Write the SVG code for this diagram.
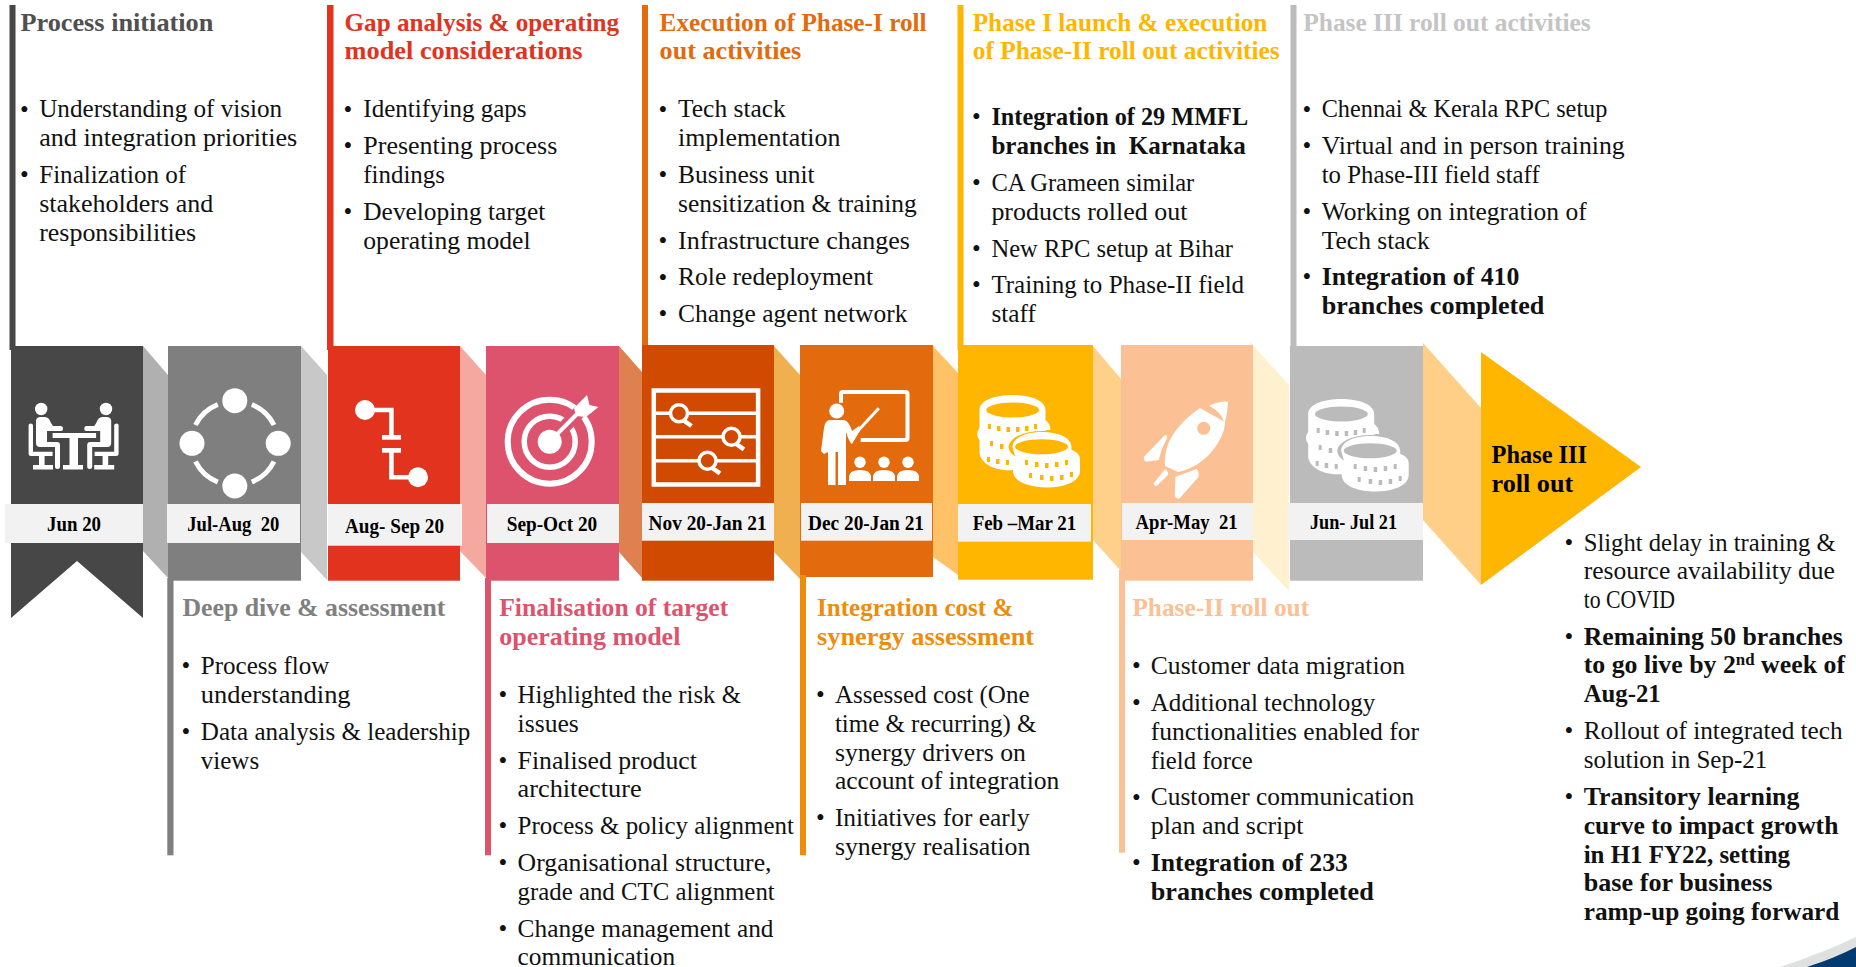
<svg xmlns="http://www.w3.org/2000/svg" width="1856" height="967" viewBox="0 0 1856 967">
<style>
text{font-family:"Liberation Serif","Times New Roman",serif;font-size:24.5px;fill:#111}
.b{font-weight:700}
.d{font-size:20px;font-weight:700;fill:#000}
.u{font-size:25px;transform:translate(0.6px,1.5px)}
.w{fill:#fff}
.band{fill:#f2f2f2}
.ln{fill:none;stroke:#fff}
</style>
<defs>
<g id="sitter">
<circle cx="41.2" cy="409" r="6.2"/>
<path d="M36 421q0-4 5-4h4q4 0 6 6l2 3h8q2 0 2 2.500t-2 2.500h-12l-2 0v11h10q3 0 3 3v22q0 2-2.500 2t-2.500-2v-20h-15q-4 0-4-4z"/>
<path d="M28.600 425q0-1.500 2-1.500t2.400 1.500v26.700h19.600v4.300h-8v9h8.400v4.500h-20v-4.500h6v-9h-8q-2.400 0-2.400-2z"/>
</g>
<g id="coins">
<path class="w" d="M979.500 410c0-20 66-20 66 0v10c4 3 5 7 5 10h-3c-14 4-25 14-34 40c-20 2-34-8-34-18v-12c-3-4-3-8 0-12z"/>
<ellipse cx="1041.500" cy="447" rx="33" ry="16" style="fill:currentColor"/>
<path class="w" d="M1012.500 447c0-20 59-20 59 0v3c6 2 8.500 5 8.500 10v11c0 22-67 22-67 0v-10q0-3 2-5z"/>
<ellipse cx="1012.700" cy="410" rx="26.500" ry="7.500" style="fill:currentColor"/>
<ellipse cx="1041.500" cy="446.700" rx="26.500" ry="7.500" style="fill:currentColor"/>
<g style="fill:currentColor">
<rect x="988" y="424" width="3" height="5"/><rect x="997" y="426" width="3.500" height="5"/><rect x="1006.500" y="427" width="3.500" height="5"/><rect x="1016" y="427" width="3.500" height="5"/><rect x="1025" y="426" width="3.500" height="5"/><rect x="1034" y="424" width="3" height="5"/>
<rect x="990" y="441" width="3" height="5"/><rect x="1000" y="444" width="3.500" height="5"/><rect x="987" y="457" width="3" height="5"/><rect x="996" y="459" width="3.500" height="5"/><rect x="1006" y="460" width="3" height="5"/>
<rect x="1025" y="460" width="3" height="5"/><rect x="1035" y="462" width="3.500" height="5"/><rect x="1045" y="463" width="3.500" height="5"/><rect x="1055" y="462" width="3.500" height="5"/><rect x="1065" y="460" width="3" height="5"/>
<rect x="1029" y="473" width="3" height="5"/><rect x="1040" y="475" width="3.500" height="5"/><rect x="1050" y="476" width="3.500" height="5"/><rect x="1060" y="475" width="3.500" height="5"/><rect x="1070" y="472" width="3" height="5"/>
</g>
</g>
</defs>

<path id="corner-swoosh-grey" d="M1780 967Q1825 952 1856 937V967z" fill="#dfe1e1"/>
<path id="corner-swoosh-navy" d="M1807 967Q1835 958 1856 947V967z" fill="#003a70"/>

<g id="connectors">
<polygon points="143,346 168,375 168,578 143,551" fill="#b0b0b0"/>
<polygon points="301,346 327,375 327,580 301,552" fill="#c8c8c8"/>
<polygon points="460,346 486,375 486,578 460,551" fill="#f4a8a0"/>
<polygon points="619,346 642,372 642,578 619,552" fill="#de8050"/>
<polygon points="774,346 800,375 800,579 774,552" fill="#f0b050"/>
<polygon points="933,346 958,373 958,575 933,557" fill="#ffc266"/>
<polygon points="1093,346 1121,379 1121,571 1093,540" fill="#ffd08a"/>
<polygon points="1250,342 1289,385 1289,591 1253,552" fill="#fff0cf"/>
<polygon points="1423,343 1481,408 1481,585 1423,520" fill="#ffcf87"/>
</g>

<g id="step-1">
<rect x="9.500" y="5" width="6" height="345" fill="#474747"/>
<polygon points="11,346 143,346 143,618 77,561 11,618" fill="#474747"/>
<rect class="band" x="5" y="504" width="138" height="39"/>
<text class="d" x="47" y="531" textLength="54" lengthAdjust="spacingAndGlyphs">Jun 20</text>
<g class="w"><use href="#sitter"/><use href="#sitter" transform="translate(147.200 0) scale(-1 1)"/>
<rect x="52.600" y="433" width="43.500" height="5"/><rect x="69.500" y="438" width="8.500" height="27"/><rect x="63" y="465" width="20" height="4.500"/></g>
<text style="fill:#505050" class="b" x="20.400" y="30.700" textLength="193" lengthAdjust="spacingAndGlyphs">Process initiation</text>
<text class="u" x="19.500" y="116">•</text>
<text x="39.200" y="117.300" textLength="243" lengthAdjust="spacingAndGlyphs">Understanding of vision</text>
<text x="39.200" y="146" textLength="258" lengthAdjust="spacingAndGlyphs">and integration priorities</text>
<text class="u" x="19.500" y="181.200">•</text>
<text x="39.200" y="182.700" textLength="147" lengthAdjust="spacingAndGlyphs">Finalization of</text>
<text x="39.200" y="212" textLength="174" lengthAdjust="spacingAndGlyphs">stakeholders and</text>
<text x="39.200" y="240.700" textLength="157" lengthAdjust="spacingAndGlyphs">responsibilities</text>
</g>

<g id="step-2">
<rect x="168" y="346" width="133" height="234.700" fill="#7f7f7f"/>
<rect x="167.300" y="578" width="6.200" height="277.300" fill="#7f7f7f"/>
<rect class="band" x="167" y="504" width="133" height="39"/>
<text class="d" x="187.300" y="531" textLength="92" lengthAdjust="spacingAndGlyphs" xml:space="preserve">Jul-Aug  20</text>
<g class="w"><circle cx="234.800" cy="400.700" r="12.500"/><circle cx="192" cy="443.300" r="12.500"/><circle cx="278.200" cy="443.300" r="12.500"/><circle cx="234.800" cy="486" r="12.500"/></g>
<path class="ln" stroke-width="5" d="M217.800 404.500A42 42 0 0 0 195.500 425M251.800 404.500A42 42 0 0 1 274 425M217.800 482A42 42 0 0 1 195.500 461.500M251.800 482A42 42 0 0 0 274 461.500"/>
<text style="fill:#808080" class="b" x="182.400" y="616" textLength="263" lengthAdjust="spacingAndGlyphs">Deep dive &amp; assessment</text>
<text class="u" x="181" y="672.500">•</text>
<text x="200.800" y="674" textLength="128.600" lengthAdjust="spacingAndGlyphs">Process flow</text>
<text x="200.800" y="703.300" textLength="149.800" lengthAdjust="spacingAndGlyphs">understanding</text>
<text class="u" x="181" y="738.500">•</text>
<text x="200.800" y="740" textLength="269.400" lengthAdjust="spacingAndGlyphs">Data analysis &amp; leadership</text>
<text x="200.800" y="768.700" textLength="58.400" lengthAdjust="spacingAndGlyphs">views</text>
</g>

<g id="step-3">
<rect x="327" y="5" width="6.500" height="345" fill="#e1331e"/>
<rect x="328" y="346" width="132" height="234.700" fill="#e1331e"/>
<rect class="band" x="328" y="504" width="134" height="41.700"/>
<text class="d" x="345" y="532.700" textLength="99" lengthAdjust="spacingAndGlyphs">Aug- Sep 20</text>
<g class="w"><circle cx="365" cy="410" r="10"/><circle cx="418" cy="477.300" r="10"/><rect x="382" y="435" width="19" height="4.700"/><rect x="382" y="448" width="19" height="4.700"/></g>
<path class="ln" stroke-width="4.500" d="M365 410H391.400V436M391.400 450V477.300H418"/>
<text style="fill:#e1331e" class="b" x="344.500" y="30.700" textLength="274.700" lengthAdjust="spacingAndGlyphs">Gap analysis &amp; operating</text>
<text style="fill:#e1331e" class="b" x="344.500" y="59.300" textLength="238" lengthAdjust="spacingAndGlyphs">model considerations</text>
<text class="u" x="343" y="116">•</text>
<text x="363.300" y="117.300" textLength="163.300" lengthAdjust="spacingAndGlyphs">Identifying gaps</text>
<text class="u" x="343" y="152.500">•</text>
<text x="363.300" y="154" textLength="194" lengthAdjust="spacingAndGlyphs">Presenting process</text>
<text x="363.300" y="182.700" textLength="81.600" lengthAdjust="spacingAndGlyphs">findings</text>
<text class="u" x="343" y="218.500">•</text>
<text x="363.300" y="220" textLength="182" lengthAdjust="spacingAndGlyphs">Developing target</text>
<text x="363.300" y="248.700" textLength="167.300" lengthAdjust="spacingAndGlyphs">operating model</text>
</g>

<g id="step-4">
<rect x="486" y="346" width="133" height="234.700" fill="#dd536d"/>
<rect x="485" y="578" width="6" height="277.300" fill="#dd536d"/>
<rect class="band" x="487" y="504" width="132" height="39"/>
<text class="d" x="506.700" y="531" textLength="90.500" lengthAdjust="spacingAndGlyphs">Sep-Oct 20</text>
<g>
<circle cx="549.700" cy="441.700" r="42" fill="none" stroke="#fff" stroke-width="6"/>
<circle cx="549.700" cy="441.700" r="25.500" fill="none" stroke="#fff" stroke-width="5.500"/>
<path d="M549.700 441.700L592 399" stroke="#dd536d" stroke-width="13" fill="none"/>
<circle class="w" cx="549.700" cy="441.700" r="12"/>
<path d="M549.700 441.700L578 413" stroke="#fff" stroke-width="4" fill="none"/>
<polygon class="w" points="587,395 589.500,405 598.500,407 586,417 576,416 574,408"/>
</g>
<text style="fill:#dd536d" class="b" x="499.200" y="616" textLength="229" lengthAdjust="spacingAndGlyphs">Finalisation of target</text>
<text style="fill:#dd536d" class="b" x="499.200" y="645" textLength="181.200" lengthAdjust="spacingAndGlyphs">operating model</text>
<text class="u" x="498" y="701">•</text>
<text x="517.600" y="702.700" textLength="223.300" lengthAdjust="spacingAndGlyphs">Highlighted the risk &amp;</text>
<text x="517.600" y="732" textLength="61.200" lengthAdjust="spacingAndGlyphs">issues</text>
<text class="u" x="498" y="767">•</text>
<text x="517.600" y="768.700" textLength="179.200" lengthAdjust="spacingAndGlyphs">Finalised product</text>
<text x="517.600" y="797.300" textLength="124" lengthAdjust="spacingAndGlyphs">architecture</text>
<text class="u" x="498" y="832.500">•</text>
<text x="517.600" y="834" textLength="276.300" lengthAdjust="spacingAndGlyphs">Process &amp; policy alignment</text>
<text class="u" x="498" y="869.500">•</text>
<text x="517.600" y="871" textLength="253.900" lengthAdjust="spacingAndGlyphs">Organisational structure,</text>
<text x="517.600" y="900" textLength="257.100" lengthAdjust="spacingAndGlyphs">grade and CTC alignment</text>
<text class="u" x="498" y="935">•</text>
<text x="517.600" y="936.700" textLength="255.900" lengthAdjust="spacingAndGlyphs">Change management and</text>
<text x="517.600" y="965.300" textLength="157.600" lengthAdjust="spacingAndGlyphs">communication</text>
</g>

<g id="step-5">
<rect x="642" y="5" width="6" height="345" fill="#e36b0d"/>
<rect x="642" y="345" width="132" height="235.700" fill="#d04a02"/>
<rect class="band" x="642" y="503" width="132" height="37.700"/>
<text class="d" x="648.600" y="530" textLength="118" lengthAdjust="spacingAndGlyphs">Nov 20-Jan 21</text>
<rect x="653.800" y="390.500" width="104.300" height="94" fill="none" stroke="#fff" stroke-width="4.500"/>
<path class="ln" stroke-width="3.500" d="M653 413.300H758M653 436.700H758M653 460.700H758"/>
<g fill="#d04a02" stroke="#fff" stroke-width="3.500"><path d="M683 420L691.500 426M735.500 443.500L744 449.300M711.500 467.500L720 473.300" stroke-width="4.500"/><circle cx="679" cy="413.300" r="8.500"/><circle cx="731.500" cy="436.700" r="8.500"/><circle cx="707.500" cy="460.700" r="8.500"/></g>
<text style="fill:#e36b0d" class="b" x="659.600" y="30.700" textLength="267" lengthAdjust="spacingAndGlyphs">Execution of Phase-I roll</text>
<text style="fill:#e36b0d" class="b" x="659.600" y="59.300" textLength="141.600" lengthAdjust="spacingAndGlyphs">out activities</text>
<text class="u" x="658" y="116">•</text>
<text x="678" y="117.300" textLength="107.800" lengthAdjust="spacingAndGlyphs">Tech stack</text>
<text x="678" y="146" textLength="162.400" lengthAdjust="spacingAndGlyphs">implementation</text>
<text class="u" x="658" y="181">•</text>
<text x="678" y="182.700" textLength="136.700" lengthAdjust="spacingAndGlyphs">Business unit</text>
<text x="678" y="212" textLength="238.800" lengthAdjust="spacingAndGlyphs">sensitization &amp; training</text>
<text class="u" x="658" y="247.500">•</text>
<text x="678" y="249" textLength="232" lengthAdjust="spacingAndGlyphs">Infrastructure changes</text>
<text class="u" x="658" y="284">•</text>
<text x="678" y="285.300" textLength="195" lengthAdjust="spacingAndGlyphs">Role redeployment</text>
<text class="u" x="658" y="320.500">•</text>
<text x="678" y="322" textLength="229.400" lengthAdjust="spacingAndGlyphs">Change agent network</text>
</g>

<g id="step-6">
<rect x="800" y="345" width="133" height="232" fill="#e36b0d"/>
<rect x="800" y="575" width="6" height="280.300" fill="#ee8c0b"/>
<rect class="band" x="801" y="503" width="131" height="37.700"/>
<text class="d" x="808" y="530" textLength="116" lengthAdjust="spacingAndGlyphs">Dec 20-Jan 21</text>
<path class="ln" stroke-width="4" stroke-linejoin="round" d="M841 402.700V394Q841 392 843 392H905.500Q907.500 392 907.500 394V438Q907.500 440 905.500 440H860.700"/>
<path class="ln" stroke-width="3" d="M855.700 433.300L878.800 408.300"/>
<g class="w">
<circle cx="836.700" cy="411" r="7.500"/>
<path d="M829 420H844Q849 421 852 431L859 426L861 429L852 444Q849 442 846 432V485H838V452H835.500V485H828V452L824 454L821 451L824 428Q825 421 829 420z"/>
<circle cx="860" cy="462.300" r="5.700"/><circle cx="884" cy="462.300" r="5.700"/><circle cx="908" cy="462.300" r="5.700"/>
<path d="M849 481V476Q850 470 860 470Q870 470 871 476V481zM873 481V476Q874 470 884 470Q894 470 895 476V481zM897 481V476Q898 470 908 470Q918 470 919 476V481z"/>
</g>
<text style="fill:#ee8c0b" class="b" x="817" y="616" textLength="196.300" lengthAdjust="spacingAndGlyphs">Integration cost &amp;</text>
<text style="fill:#ee8c0b" class="b" x="817" y="645" textLength="217.100" lengthAdjust="spacingAndGlyphs">synergy assessment</text>
<text class="u" x="815.500" y="701">•</text>
<text x="834.900" y="702.700" textLength="194.700" lengthAdjust="spacingAndGlyphs">Assessed cost (One</text>
<text x="834.900" y="732" textLength="201.600" lengthAdjust="spacingAndGlyphs">time &amp; recurring) &amp;</text>
<text x="834.900" y="760.700" textLength="191" lengthAdjust="spacingAndGlyphs">synergy drivers on</text>
<text x="834.900" y="789.300" textLength="224.500" lengthAdjust="spacingAndGlyphs">account of integration</text>
<text class="u" x="815.500" y="824.500">•</text>
<text x="834.900" y="826" textLength="194.700" lengthAdjust="spacingAndGlyphs">Initiatives for early</text>
<text x="834.900" y="855.300" textLength="195.500" lengthAdjust="spacingAndGlyphs">synergy realisation</text>
</g>

<g id="step-7">
<rect x="957.500" y="5" width="6" height="345" fill="#ffb600"/>
<rect x="958" y="345" width="135" height="234.700" fill="#ffb600"/>
<rect class="band" x="958" y="504" width="133" height="37.700"/>
<text class="d" x="972.700" y="530" textLength="103.500" lengthAdjust="spacingAndGlyphs">Feb –Mar 21</text>
<use href="#coins" style="color:#ffb600"/>
<text style="fill:#ffb600" class="b" x="972.700" y="30.700" textLength="294.700" lengthAdjust="spacingAndGlyphs">Phase I launch &amp; execution</text>
<text style="fill:#ffb600" class="b" x="972.700" y="59.300" textLength="307" lengthAdjust="spacingAndGlyphs">of Phase-II roll out activities</text>
<text class="u" x="971.500" y="123.500">•</text>
<text class="b" x="991.400" y="125" textLength="256.700" lengthAdjust="spacingAndGlyphs">Integration of 29 MMFL</text>
<text class="b" x="991.400" y="154" textLength="254.300" lengthAdjust="spacingAndGlyphs" xml:space="preserve">branches in  Karnataka</text>
<text class="u" x="971.500" y="189.500">•</text>
<text x="991.400" y="191" textLength="202.900" lengthAdjust="spacingAndGlyphs">CA Grameen similar</text>
<text x="991.400" y="220" textLength="196" lengthAdjust="spacingAndGlyphs">products rolled out</text>
<text class="u" x="971.500" y="255.500">•</text>
<text x="991.400" y="257" textLength="241.600" lengthAdjust="spacingAndGlyphs">New RPC setup at Bihar</text>
<text class="u" x="971.500" y="291.500">•</text>
<text x="991.400" y="293" textLength="252.700" lengthAdjust="spacingAndGlyphs">Training to Phase-II field</text>
<text x="991.400" y="322" textLength="44.500" lengthAdjust="spacingAndGlyphs">staff</text>
</g>

<g id="step-8">
<rect x="1121" y="345" width="132" height="235.700" fill="#fbc093"/>
<rect x="1119" y="570" width="6" height="282.700" fill="#fbc093"/>
<rect class="band" x="1122" y="503" width="131" height="37"/>
<text class="d" x="1135.600" y="529" textLength="102" lengthAdjust="spacingAndGlyphs" xml:space="preserve">Apr-May  21</text>
<g class="w">
<path d="M1200 408C1185 418 1172 432 1167 447Q1164 458 1165 466L1178 472C1190 470 1205 461 1213 450C1221 440 1225 430 1225 422Z"/>
<path d="M1209 405.700Q1220 401 1228 401.700Q1228 412 1224.800 422.700Q1220 411 1209 405.700z"/>
<path d="M1165 435L1144 456.700Q1143 460 1146 461.700L1158.700 460Q1161 449 1167 438Q1168 435 1165 435z"/>
<path d="M1196.600 469L1175.500 476.700L1174.700 495Q1176 500 1180 498L1198.700 476.700Q1199 471 1196.600 469z"/>
<path d="M1165 469.300L1153.700 483.300Q1154 487 1156.700 486L1168 475Q1169 472 1165 469.300z"/>
</g>
<circle cx="1203.700" cy="428.300" r="6.500" fill="#fbc093"/>
<text style="fill:#fbc093" class="b" x="1132.400" y="616" textLength="176.700" lengthAdjust="spacingAndGlyphs">Phase-II roll out</text>
<text class="u" x="1131.500" y="672.500">•</text>
<text x="1150.800" y="674" textLength="254.300" lengthAdjust="spacingAndGlyphs">Customer data migration</text>
<text class="u" x="1131.500" y="709.500">•</text>
<text x="1150.800" y="711" textLength="224.500" lengthAdjust="spacingAndGlyphs">Additional technology</text>
<text x="1150.800" y="740" textLength="268.200" lengthAdjust="spacingAndGlyphs">functionalities enabled for</text>
<text x="1150.800" y="768.700" textLength="102" lengthAdjust="spacingAndGlyphs">field force</text>
<text class="u" x="1131.500" y="804">•</text>
<text x="1150.800" y="805.300" textLength="263.300" lengthAdjust="spacingAndGlyphs">Customer communication</text>
<text x="1150.800" y="834.300" textLength="152.700" lengthAdjust="spacingAndGlyphs">plan and script</text>
<text class="u" x="1131.500" y="869.500">•</text>
<text class="b" x="1150.800" y="871" textLength="197.100" lengthAdjust="spacingAndGlyphs">Integration of 233</text>
<text class="b" x="1150.800" y="900" textLength="222.900" lengthAdjust="spacingAndGlyphs">branches completed</text>
</g>

<g id="step-9">
<rect x="1290.500" y="5" width="6" height="345" fill="#bbbbbb"/>
<rect x="1290" y="346" width="133" height="234.700" fill="#bbbbbb"/>
<rect class="band" x="1287.500" y="503" width="135.500" height="37"/>
<text class="d" x="1310" y="529" textLength="87" lengthAdjust="spacingAndGlyphs">Jun- Jul 21</text>
<use href="#coins" transform="translate(328.700 4)" style="color:#bbbbbb"/>
<text style="fill:#c4c4c4" class="b" x="1303.300" y="30.700" textLength="287.300" lengthAdjust="spacingAndGlyphs">Phase III roll out activities</text>
<text class="u" x="1302" y="116">•</text>
<text x="1321.700" y="117.300" textLength="285.700" lengthAdjust="spacingAndGlyphs">Chennai &amp; Kerala RPC setup</text>
<text class="u" x="1302" y="152.500">•</text>
<text x="1321.700" y="154" textLength="303" lengthAdjust="spacingAndGlyphs">Virtual and in person training</text>
<text x="1321.700" y="182.700" textLength="218" lengthAdjust="spacingAndGlyphs">to Phase-III field staff</text>
<text class="u" x="1302" y="218.500">•</text>
<text x="1321.700" y="220" textLength="265" lengthAdjust="spacingAndGlyphs">Working on integration of</text>
<text x="1321.700" y="248.700" textLength="108" lengthAdjust="spacingAndGlyphs">Tech stack</text>
<text class="u" x="1302" y="283.500">•</text>
<text class="b" x="1321.700" y="285" textLength="197.700" lengthAdjust="spacingAndGlyphs">Integration of 410</text>
<text class="b" x="1321.700" y="314" textLength="222.700" lengthAdjust="spacingAndGlyphs">branches completed</text>
</g>

<g id="step-10">
<polygon points="1481,352 1641,467 1481,585" fill="#ffb600"/>
<text class="b" style="fill:#000" x="1491.600" y="462.700" textLength="95.400" lengthAdjust="spacingAndGlyphs">Phase III</text>
<text class="b" style="fill:#000" x="1491.600" y="492" textLength="81.600" lengthAdjust="spacingAndGlyphs">roll out</text>
<text class="u" x="1564" y="549">•</text>
<text x="1583.700" y="550.700" textLength="252" lengthAdjust="spacingAndGlyphs">Slight delay in training &amp;</text>
<text x="1583.700" y="579.300" textLength="251.300" lengthAdjust="spacingAndGlyphs">resource availability due</text>
<text x="1583.700" y="608.300" textLength="91.300" lengthAdjust="spacingAndGlyphs">to COVID</text>
<text class="u" x="1564" y="643.500">•</text>
<text class="b" x="1583.700" y="645" textLength="259" lengthAdjust="spacingAndGlyphs">Remaining 50 branches</text>
<text class="b" x="1583.700" y="673.300" textLength="261.300" lengthAdjust="spacingAndGlyphs">to go live by 2<tspan dy="-8" font-size="16">nd</tspan><tspan dy="8"> week of</tspan></text>
<text class="b" x="1583.700" y="702.300" textLength="77" lengthAdjust="spacingAndGlyphs">Aug-21</text>
<text class="u" x="1564" y="737.500">•</text>
<text x="1583.700" y="739" textLength="259" lengthAdjust="spacingAndGlyphs">Rollout of integrated tech</text>
<text x="1583.700" y="768" textLength="183.700" lengthAdjust="spacingAndGlyphs">solution in Sep-21</text>
<text class="u" x="1564" y="803.500">•</text>
<text class="b" x="1583.700" y="805" textLength="215.700" lengthAdjust="spacingAndGlyphs">Transitory learning</text>
<text class="b" x="1583.700" y="833.700" textLength="254.700" lengthAdjust="spacingAndGlyphs">curve to impact growth</text>
<text class="b" x="1583.700" y="862.700" textLength="206.300" lengthAdjust="spacingAndGlyphs">in H1 FY22, setting</text>
<text class="b" x="1583.700" y="891" textLength="188.700" lengthAdjust="spacingAndGlyphs">base for business</text>
<text class="b" x="1583.700" y="920" textLength="255.700" lengthAdjust="spacingAndGlyphs">ramp-up going forward</text>
</g>
</svg>
